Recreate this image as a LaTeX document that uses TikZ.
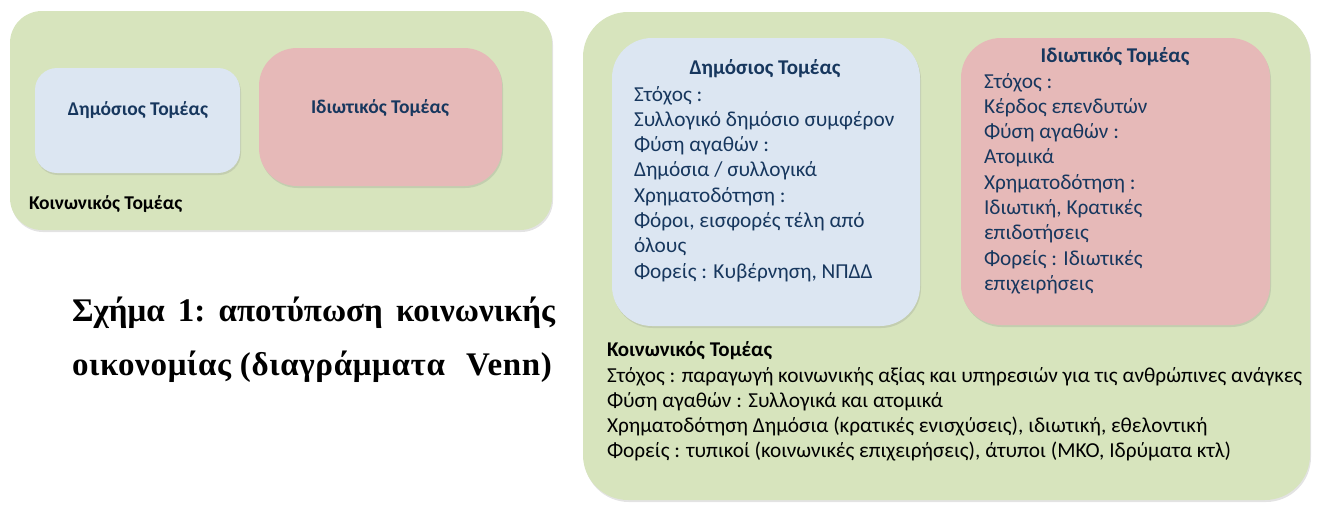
\documentclass[tikz,border=0pt]{standalone}
\usepackage{fontspec}
\setmainfont{Carlito}
\newfontfamily\capfont{Liberation Serif}
\usetikzlibrary{shadows}
\definecolor{cgreen}{HTML}{D7E4BD}
\definecolor{cblue}{HTML}{DCE6F2}
\definecolor{cred}{HTML}{E6B9B8}
\definecolor{cnavy}{HTML}{17375E}
\tikzset{
  panel/.style={draw=none, inner sep=0pt, outer sep=0pt, anchor=north west,
    drop shadow={shadow xshift=1pt, shadow yshift=-2pt, opacity=0.22}},
  lbl/.style={inner sep=0pt, outer sep=0pt},
  ttl/.style={lbl, anchor=base, text=cnavy, font=\bfseries\fontsize{#1}{#1}\selectfont},
  body/.style={lbl, anchor=base west, font=\fontsize{21.3}{25.3}\selectfont},
  captxt/.style={lbl, anchor=base west, font=\capfont\bfseries\fontsize{33}{33}\selectfont\frenchspacing},
}
\begin{document}
\begin{tikzpicture}[x=1pt, y=-1pt]
\useasboundingbox (0,0) rectangle (1317,504);
% ---------- left diagram ----------
\node[panel, fill=cgreen, rounded corners=32pt, minimum width=542pt, minimum height=219pt] (lgreen) at (10,11) {};
\node[panel, fill=cblue, rounded corners=22pt, minimum width=205pt, minimum height=105pt] (lblue) at (35,68) {};
\node[panel, fill=cred, rounded corners=38pt, minimum width=243pt, minimum height=138pt] (lred) at (259,48) {};
\node[ttl=19.5] (lbluelbl) at (138,115) {Δημόσιος Τομέας};
\node[ttl=19.5] (lredlbl) at (380,113) {Ιδιωτικός Τομέας};
\node[lbl, anchor=base west, font=\bfseries\fontsize{19.5}{19.5}\selectfont] (lgreenlbl) at (29,209) {Κοινωνικός Τομέας};
% ---------- caption ----------
\node[captxt] (cap1) at (72,321)
  {\makebox[483pt][s]{Σχήμα 1: αποτύπωση κοινωνικής}};
\node[captxt] (cap2) at (72,375)
  {\makebox[480pt][l]{\addfontfeature{LetterSpace=2}οικονομίας (διαγράμματα\hfill Venn)}};
% ---------- right diagram ----------
\node[panel, fill=cgreen, rounded corners=45pt, minimum width=727pt, minimum height=488pt] (rgreen) at (583,12) {};
\node[panel, fill=cblue, rounded corners=40pt, minimum width=308pt, minimum height=288pt] (rblue) at (612,38) {};
\node[panel, fill=cred, rounded corners=40pt, minimum width=309pt, minimum height=287pt] (rred) at (961,38) {};
\node[ttl=21] (rbluettl) at (765,74) {Δημόσιος Τομέας};
\node[body, text=cnavy] (rbluebody) at (634,101) {\begin{tabular}[t]{@{}l@{}}
Στόχος :\\
Συλλογικό δημόσιο συμφέρον\\
Φύση αγαθών :\\
Δημόσια / συλλογικά\\
Χρηματοδότηση :\\
Φόροι, εισφορές τέλη από\\
όλους\\
Φορείς : Κυβέρνηση, ΝΠΔΔ
\end{tabular}};
\node[ttl=21] (rredttl) at (1115,62) {Ιδιωτικός Τομέας};
\node[body, text=cnavy] (rredbody) at (984,88) {\begin{tabular}[t]{@{}l@{}}
Στόχος :\\
Κέρδος επενδυτών\\
Φύση αγαθών :\\
Ατομικά\\
Χρηματοδότηση :\\
Ιδιωτική, Κρατικές\\
επιδοτήσεις\\
Φορείς : Ιδιωτικές\\
επιχειρήσεις
\end{tabular}};
\node[lbl, anchor=base west, font=\bfseries\fontsize{21}{21}\selectfont] (rgreenttl) at (607,356) {Κοινωνικός Τομέας};
\node[body] (rgreenbody) at (607,382) {\begin{tabular}[t]{@{}l@{}}
Στόχος : παραγωγή κοινωνικής αξίας και υπηρεσιών για τις ανθρώπινες ανάγκες\\
Φύση αγαθών : Συλλογικά και ατομικά\\
Χρηματοδότηση Δημόσια (κρατικές ενισχύσεις), ιδιωτική, εθελοντική\\
Φορείς : τυπικοί (κοινωνικές επιχειρήσεις), άτυποι (ΜΚΟ, Ιδρύματα κτλ)
\end{tabular}};
\end{tikzpicture}
\end{document}
